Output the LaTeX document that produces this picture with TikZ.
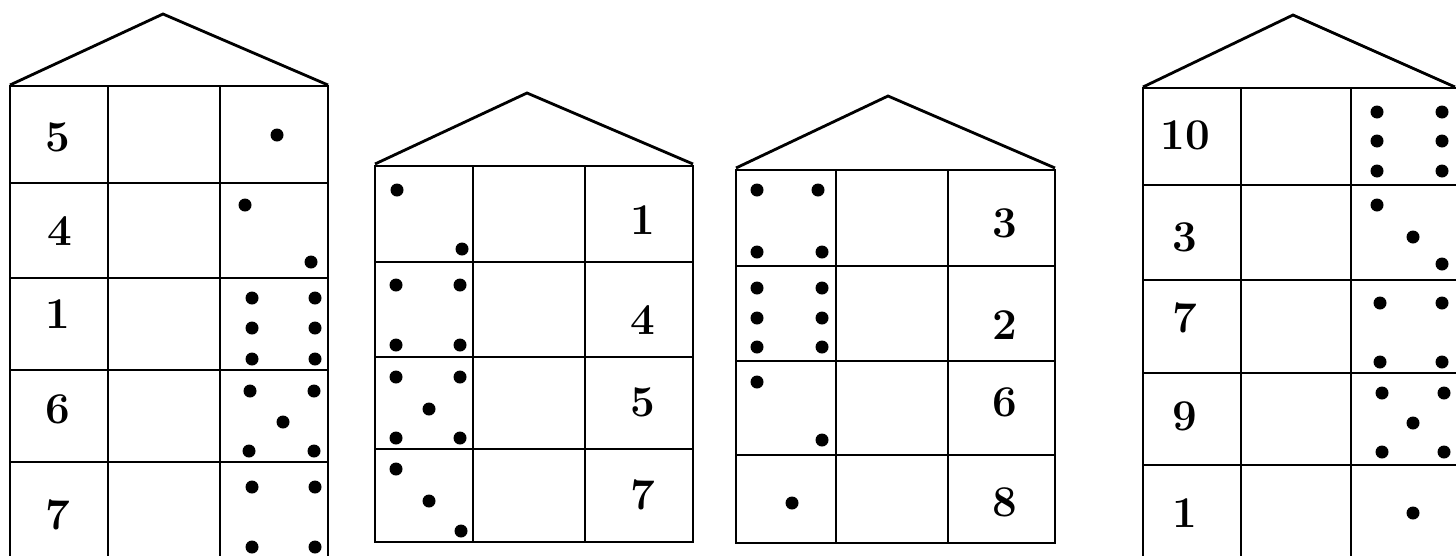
\documentclass[tikz,border=0pt]{standalone}
\usetikzlibrary{positioning}

\begin{document}
\begin{tikzpicture}[x=0.02cm, y=-0.02cm,
        wall/.style={line width=1.6pt},
        grid/.style={line width=1.3pt},
        num/.style={font=\fontsize{25}{30}\selectfont\bfseries}]
        \useasboundingbox (0,0) rectangle (1456,555);
        \clip (0,0) rectangle (1456,555);

        % house 1 (cut at the bottom)
        \draw[wall] (10,85) -- (163,14) -- (328,85);
        \draw[wall] (10,560) -- (10,86) -- (328,86) -- (328,560);
        \foreach \y in {183,278,370,462} \draw[grid] (10,\y) -- (328,\y);
        \foreach \x in {108,220} \draw[grid] (\x,86) -- (\x,560);
        \node[num] (h1a) at (58,137) {5};
        \node[num] (h1b) at (60,231) {4};
        \node[num] (h1c) at (58,314) {1};
        \node[num] (h1d) at (58,409) {6};
        \node[num] (h1e) at (58,515) {7};
        \foreach \p in {(277,135),
                (245,205),(311,262),
                (252,298),(315,298),(252,328),(315,328),(252,359),(315,359),
                (250,391),(314,391),(283,422),(249,451),(314,451),
                (252,487),(315,487),(252,547),(315,547)}
            \fill \p circle (6.5);

        % house 2
        \draw[wall] (375,164) -- (527,93) -- (693,164);
        \draw[wall] (375,166) rectangle (693,542);
        \foreach \y in {262,357,449} \draw[grid] (375,\y) -- (693,\y);
        \foreach \x in {473,585} \draw[grid] (\x,166) -- (\x,542);
        \node[num] (h2a) at (643,220) {1};
        \node[num] (h2b) at (643,320) {4};
        \node[num] (h2c) at (643,402) {5};
        \node[num] (h2d) at (643,495) {7};
        \foreach \p in {(397,190),(462,249),
                (396,285),(460,285),(396,345),(460,345),
                (396,377),(460,377),(429,409),(396,438),(460,438),
                (396,469),(429,501),(461,531)}
            \fill \p circle (6.5);

        % house 3
        \draw[wall] (736,168) -- (888,96) -- (1055,168);
        \draw[wall] (736,170) rectangle (1055,543);
        \foreach \y in {266,361,455} \draw[grid] (736,\y) -- (1055,\y);
        \foreach \x in {836,948} \draw[grid] (\x,170) -- (\x,543);
        \node[num] (h3a) at (1005,223) {3};
        \node[num] (h3b) at (1005,325) {2};
        \node[num] (h3c) at (1005,402) {6};
        \node[num] (h3d) at (1005,502) {8};
        \foreach \p in {(757,190),(818,190),(757,252),(822,252),
                (757,288),(822,288),(757,318),(822,318),(757,347),(822,347),
                (757,382),(822,440),
                (792,503)}
            \fill \p circle (6.5);

        % house 4 (cut at the right and at the bottom)
        \draw[wall] (1143,87) -- (1293,15) -- (1455,87);
        \draw[wall] (1143,560) -- (1143,88) -- (1460,88);
        \foreach \y in {185,280,373,465} \draw[grid] (1143,\y) -- (1460,\y);
        \foreach \x in {1241,1351} \draw[grid] (\x,88) -- (\x,560);
        \node[num] (h4a) at (1185,135) {10};
        \node[num] (h4b) at (1185,237) {3};
        \node[num] (h4c) at (1185,318) {7};
        \node[num] (h4d) at (1185,416) {9};
        \node[num] (h4e) at (1185,513) {1};
        \foreach \p in {(1377,112),(1442,112),(1377,141),(1442,141),(1377,171),(1442,171),
                (1377,205),(1413,237),(1442,264),
                (1380,303),(1442,303),(1380,362),(1442,362),
                (1382,393),(1444,393),(1413,423),(1382,452),(1444,452),
                (1413,513)}
            \fill \p circle (6.5);
    \end{tikzpicture}
\end{document}
